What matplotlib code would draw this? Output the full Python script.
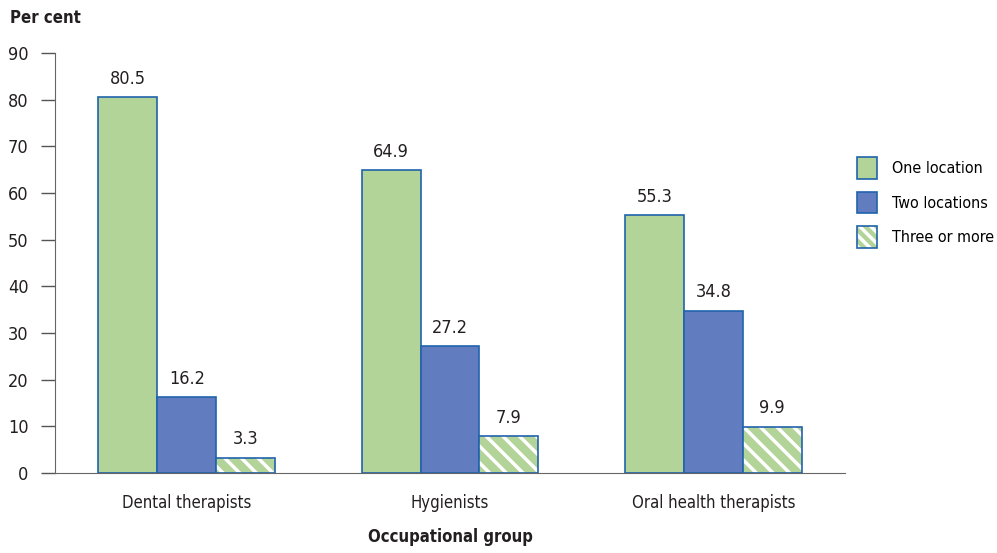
import matplotlib
matplotlib.use("Agg")
import matplotlib.pyplot as plt
import numpy as np
from matplotlib.patches import Patch

plt.rcParams['font.family'] = ['DejaVu Sans']
plt.rcParams['font.stretch'] = 'condensed'
plt.rcParams['hatch.linewidth'] = 2.5

categories = ["Dental therapists", "Hygienists", "Oral health therapists"]
series_names = ["One location", "Two locations", "Three or more"]
one_loc = [80.5, 64.9, 55.3]
two_loc = [16.2, 27.2, 34.8]
three_more = [3.3, 7.9, 9.9]
yticks = [0, 10, 20, 30, 40, 50, 60, 70, 80, 90]

green = '#b3d498'
blue = '#617cbf'
edge = '#1f63ad'
txt = '#231f20'
fs = 13
fs2 = 12

fig = plt.figure(figsize=(9.97, 5.53), dpi=100)
ax = fig.add_axes([0.0552, 0.1447, 0.7923, 0.7595])

x = np.arange(len(categories))
w = 0.224
series = [one_loc, two_loc, three_more]
colors = [green, blue, green]
for i, vals in enumerate(series):
    pos = x + (i - 1) * w
    if i == 2:
        ax.bar(pos, vals, w, color=green, edgecolor='white', linewidth=0, hatch='\\\\')
        bars = ax.bar(pos, vals, w, fill=False, edgecolor=edge, linewidth=1.2)
    else:
        bars = ax.bar(pos, vals, w, color=colors[i], edgecolor=edge, linewidth=1.2)
    for b, v in zip(bars, vals):
        ax.text(b.get_x() + b.get_width() / 2, v + 2.0, f"{v:.1f}",
                ha='center', va='bottom', fontsize=fs, color=txt)

ax.set_xlim(-0.5, 2.5)
ax.set_ylim(0, 90)
ax.set_yticks(yticks)
ax.set_yticklabels([str(t) for t in yticks], fontsize=fs, color=txt)
ax.set_xticks(x)
ax.set_xticklabels(categories, fontsize=fs2, color=txt)
ax.tick_params(axis='x', length=0, pad=15)
ax.tick_params(axis='y', length=10, width=1, color='#555555', pad=9)
for s in ['top', 'right']:
    ax.spines[s].set_visible(False)
ax.spines['left'].set_color('#666666')
ax.spines['bottom'].set_color('#666666')
ax.set_xlabel("Occupational group", fontsize=fs2, fontweight='bold', color=txt, labelpad=12)
fig.text(0.010, 0.967, "Per cent", fontsize=fs2, fontweight='bold', color=txt, ha='left', va='center')

h1 = Patch(facecolor=green, edgecolor=edge, linewidth=1.2)
h2 = Patch(facecolor=blue, edgecolor=edge, linewidth=1.2)
h3 = (Patch(facecolor=green, edgecolor='white', linewidth=0, hatch='\\\\\\'),
      Patch(fill=False, edgecolor=edge, linewidth=1.2))
fig.legend([h1, h2, h3], series_names, loc='upper left', bbox_to_anchor=(0.852, 0.73),
           frameon=False, fontsize=11.5, handlelength=1.25, handleheight=1.7,
           labelspacing=0.8, handletextpad=0.9, borderpad=0)

fig.savefig("out.png", dpi=100)
